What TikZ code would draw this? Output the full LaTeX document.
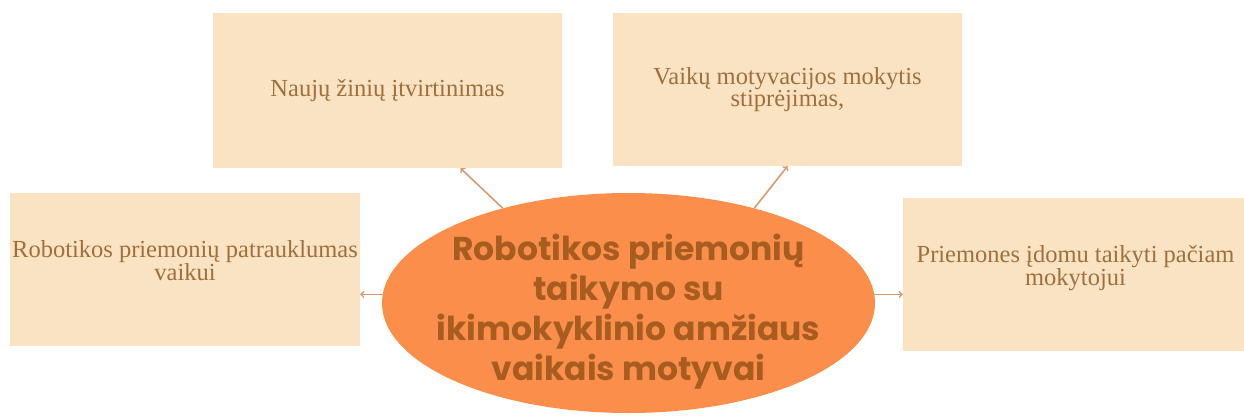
\documentclass[tikz,border=0pt]{standalone}
\usepackage{fontspec}
\setmainfont{Liberation Serif}
\newfontfamily\titlefont{Poppins}
\usetikzlibrary{shapes.geometric}

\definecolor{boxfill}{HTML}{F9E3C3}
\definecolor{boxtext}{HTML}{A06F3C}
\definecolor{ellfill}{HTML}{FB8E4B}
\definecolor{elltext}{HTML}{A65D1F}
\definecolor{arrowcol}{HTML}{DB9A6E}

\begin{document}
\begin{tikzpicture}[x=1pt, y=-1pt,
    motive/.style={fill=boxfill, text=boxtext, align=center, inner sep=0pt,
        font=\fontsize{24.5}{21}\selectfont},
    arr/.style={arrowcol, line width=1.6pt, ->, >=to}]
    % PAGE
    \useasboundingbox (0,0) rectangle (1244,418);

    % MOTIVE BOXES
    \node[motive, minimum width=350, minimum height=153, text depth=18pt] (kids) at (185,269.5)
        {Robotikos priemonių patrauklumas\\vaikui};
    \node[motive, minimum width=349, minimum height=155] (knowledge) at (387.5,90.5)
        {Naujų žinių įtvirtinimas};
    \node[motive, minimum width=349, minimum height=153] (motivation) at (787.5,89.5)
        {Vaikų motyvacijos mokytis\\stiprėjimas,};
    \node[motive, minimum width=345, minimum height=153, text depth=18pt] (teacher) at (1075.5,274.5)
        {Priemones įdomu taikyti pačiam\\mokytojui};

    % CENTRAL ELLIPSE
    \node[ellipse, fill=ellfill, minimum width=493, minimum height=220, inner sep=0pt] (ell) at (628.5,303) {};
    \node[text=elltext, align=center, font=\titlefont\bfseries\fontsize{33}{40}\selectfont] (title) at (628.5,312)
        {Robotikos priemonių\\taikymo su\\ikimokyklinio amžiaus\\vaikais motyvai};

    % ARROWS
    \draw[arr] (ell.178) -- (kids.east |- ell.178);
    \draw[arr] (ell.143) -- ([xshift=73pt]knowledge.south);
    \draw[arr] (ell.37) -- (motivation.south);
    \draw[arr] (ell.2) -- (teacher.west |- ell.2);
\end{tikzpicture}
\end{document}
